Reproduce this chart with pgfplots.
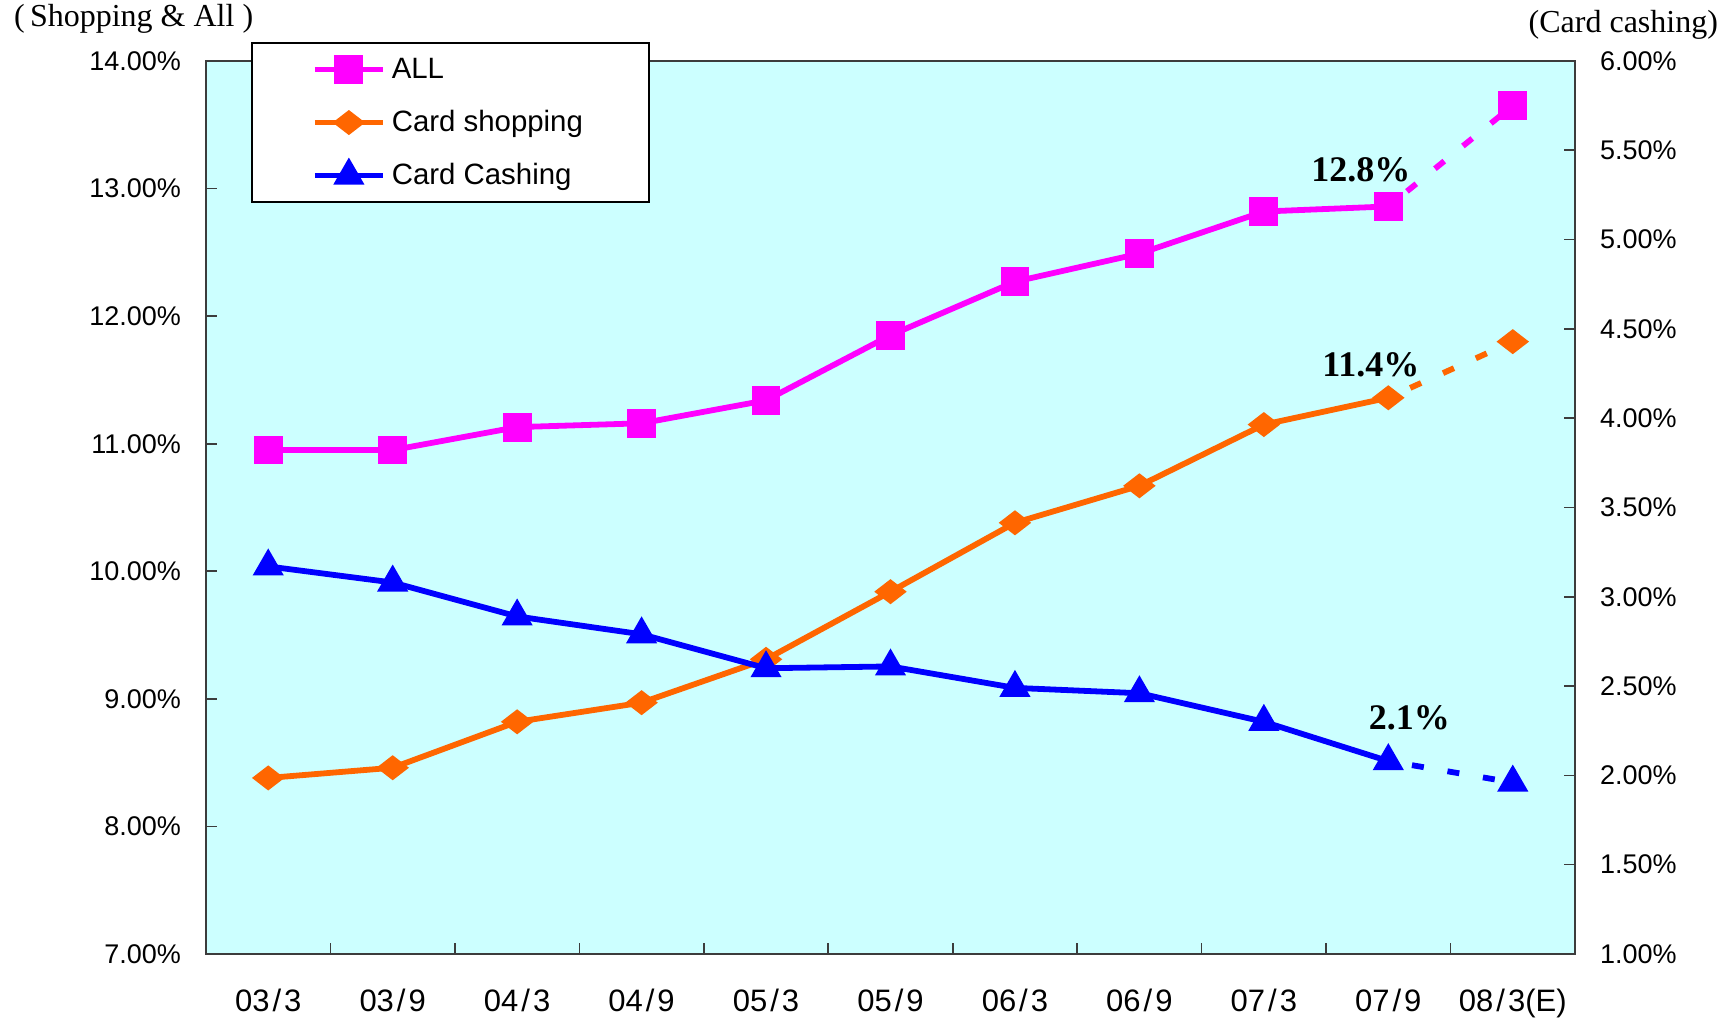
\documentclass[border=0pt]{standalone}
\usepackage{pgfplots}
\pgfplotsset{compat=1.18}
\usepackage{fontspec}
\setmainfont{Liberation Sans}
\newfontfamily\serif{Liberation Serif}
\definecolor{bg}{RGB}{204,255,255}
\definecolor{cmag}{RGB}{255,0,255}
\definecolor{corg}{RGB}{255,102,0}
\definecolor{cblu}{RGB}{0,0,255}
\definecolor{frame}{RGB}{60,60,60}
\newcommand{\sla}{\hspace{1.5pt}/\hspace{1.5pt}}
\pgfplotsset{
  base/.style={scale only axis, width=684.5pt, height=446.5pt,
    xmin=-0.5, xmax=10.5, at={(0,0)}, anchor=south west,
    /pgf/number format/assume math mode=true,
    tick style={frame, line width=0.8pt},
    major tick length=5.5pt, minor tick length=5.5pt,
    axis line style={frame, line width=1pt},
    tick align=inside,
    yticklabel style={font=\fontsize{13.5}{14}\selectfont},
  },
  sl/.style={line width=2.9pt},
  dl/.style={line width=2.9pt, dash pattern=on 6pt off 12pt, dash phase=6pt},
  mALL/.style={color=cmag, mark=square*, mark size=6.2pt, mark options={solid, line width=2pt}},
  mSHOP/.style={color=corg, mark=diamond*, mark size=6.5pt, mark options={solid, line width=2pt, xscale=1.33, yscale=0.77}},
  mCASH/.style={color=cblu, mark=triangle*, mark size=7pt, mark options={solid, line width=2pt}},
}
\begin{document}
\begin{tikzpicture}
\useasboundingbox (-103pt,-33.5pt) rectangle (762.5pt,477pt);
\begin{axis}[base,
  axis background/.style={fill=bg},
  ymin=7, ymax=14, ytick={7,8,...,14}, ytick pos=left,
  yticklabel={\pgfmathprintnumber[fixed,fixed zerofill,precision=2]{\tick}\%},
  yticklabel style={xshift=-9pt},
  xtick={0,1,...,10},
  xticklabels={03\sla3,03\sla9,04\sla3,04\sla9,05\sla3,05\sla9,06\sla3,06\sla9,07\sla3,07\sla9,08\sla3(E)},
  major x tick style={draw=none},
  minor xtick={0.5,1.5,2.5,3.5,4.5,5.5,6.5,7.5,8.5,9.5},
  xtick pos=bottom,
  xticklabel style={font=\fontsize{15.5}{16}\selectfont, yshift=-14pt},
  legend style={at={(0.033,1.021)}, anchor=north west, draw=black, line width=0.8pt,
    fill=white, inner xsep=30pt, inner ysep=0pt,
    font=\fontsize{14.7}{15}\selectfont,
    nodes={minimum height=26.5pt, inner ysep=0pt, inner xsep=3pt}},
  legend cell align=left,
  legend image code/.code={\draw[mark repeat=2,mark phase=2,#1] plot coordinates {(0pt,0pt)(17pt,0pt)(34pt,0pt)};},
]
\addplot[sl, mALL] coordinates {(0,10.95)(1,10.95)(2,11.13)(3,11.16)(4,11.34)(5,11.85)(6,12.27)(7,12.49)(8,12.82)(9,12.86)};
\addlegendentry{ALL}
\addplot[dl, mALL, mark indices={2}, forget plot] coordinates {(9,12.86)(10,13.65)};
\addplot[sl, mSHOP] coordinates {(0,8.38)(1,8.46)(2,8.82)(3,8.97)(4,9.31)(5,9.84)(6,10.38)(7,10.67)(8,11.15)(9,11.36)};
\addlegendentry{Card shopping}
\addplot[dl, mSHOP, mark indices={2}, forget plot] coordinates {(9,11.36)(10,11.80)};
\addlegendimage{sl, mCASH}
\addlegendentry{Card Cashing}
\node[font=\serif\bfseries\fontsize{18}{18}\selectfont] at (axis cs:8.78,13.15) {12.8\%};
\node[font=\serif\bfseries\fontsize{18}{18}\selectfont] at (axis cs:8.86,11.62) {11.4\%};
\end{axis}
\begin{axis}[base,
  axis x line=none, axis y line*=right,
  ymin=1, ymax=6, ytick={1,1.5,...,6},
  yticklabel={\pgfmathprintnumber[fixed,fixed zerofill,precision=2]{\tick}\%},
  yticklabel style={xshift=9pt},
]
\addplot[sl, mCASH] coordinates {(0,3.17)(1,3.08)(2,2.89)(3,2.79)(4,2.60)(5,2.61)(6,2.49)(7,2.46)(8,2.30)(9,2.08)};
\addplot[dl, mCASH, mark indices={2}] coordinates {(9,2.08)(10,1.96)};
\node[font=\serif\bfseries\fontsize{18}{18}\selectfont] at (axis cs:9.17,2.32) {2.1\%};
\end{axis}
\node[font=\serif\fontsize{16}{16}\selectfont, anchor=west] at (-99.5pt,467.5pt) {(\,Shopping \& All )};
\node[font=\serif\fontsize{16}{16}\selectfont, anchor=east] at (759.5pt,464.5pt) {(Card cashing)};
\end{tikzpicture}
\end{document}
